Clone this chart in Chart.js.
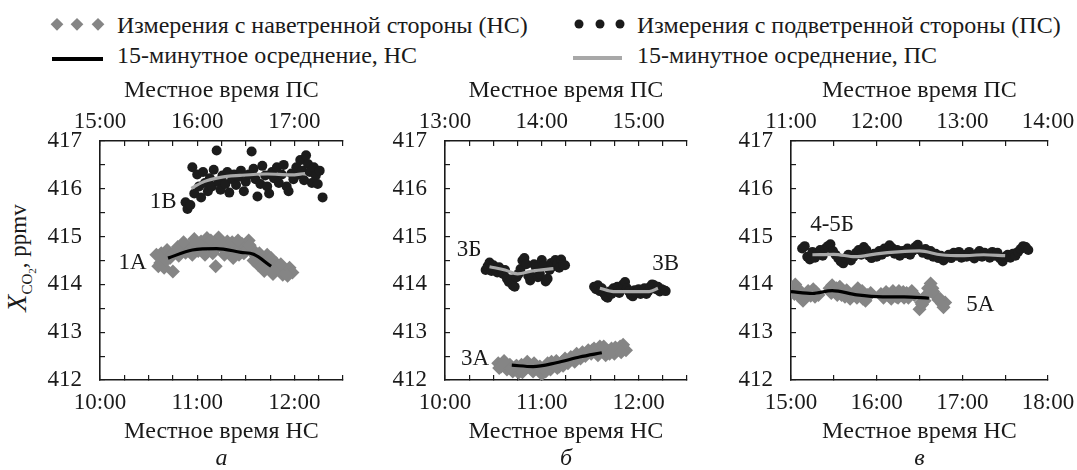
<!DOCTYPE html>
<html><head><meta charset="utf-8">
<script src="https://cdn.jsdelivr.net/npm/chart.js@4.4.1/dist/chart.umd.min.js"></script>
<style>
html,body{margin:0;padding:0;background:#fff;}
body{width:1077px;height:470px;position:relative;overflow:hidden;font-family:"Liberation Serif","DejaVu Serif",serif;color:#1a1a1a;}
canvas{position:absolute;top:60px;}
.lt{position:absolute;font-size:24px;line-height:24px;white-space:nowrap;}
.dia{position:absolute;width:8.5px;height:8.5px;background:#858585;transform:translate(-50%,-50%) rotate(45deg);}
.dot{position:absolute;width:9px;height:9px;border-radius:50%;background:#1a1a1a;transform:translate(-50%,-50%);}
.ln{position:absolute;height:4px;}
#ytitle{position:absolute;left:24px;top:258px;transform:translate(-50%,-50%) rotate(-90deg);white-space:nowrap;font-size:23px;line-height:30px;}
</style></head>
<body>
<span class="dia" style="left:57px;top:24px"></span>
<span class="dia" style="left:77px;top:24px"></span>
<span class="dia" style="left:98px;top:24px"></span>
<div class="lt" style="left:117px;top:13px">Измерения с наветренной стороны (НС)</div>
<div class="ln" style="left:52px;top:57px;width:51px;background:#000"></div>
<div class="lt" style="left:117px;top:43px">15-минутное осреднение, НС</div>
<span class="dot" style="left:579px;top:24px"></span>
<span class="dot" style="left:600px;top:24px"></span>
<span class="dot" style="left:620px;top:24px"></span>
<div class="lt" style="left:637px;top:13px">Измерения с подветренной стороны (ПС)</div>
<div class="ln" style="left:573px;top:56px;width:49px;background:#a8a8a8"></div>
<div class="lt" style="left:637px;top:43px">15-минутное осреднение, ПС</div>
<div id="ytitle"><i style="font-size:28px">X</i><sub style="font-size:15px">CO<sub style="font-size:11px">2</sub></sub>, ppmv</div>

<canvas id="ca" width="360" height="410" style="left:0px;width:360px;height:410px"></canvas>
<canvas id="cb" width="357" height="410" style="left:360px;width:357px;height:410px"></canvas>
<canvas id="cc" width="360" height="410" style="left:717px;width:360px;height:410px"></canvas>

<script>
// ---------- Panel а ----------
const tA_ns = [10.60,10.63,10.66,10.69,10.72,10.75,10.78,10.81,10.85,10.88,10.91,10.95,10.98,11.01,11.04,11.07,11.10,11.13,11.16,11.19,11.22,11.25,11.28,11.31,11.34,11.37,11.40,11.43,11.46,11.50,11.53,11.56,11.60,11.63,11.66,11.69,11.72,11.75,11.78,11.81,11.84,11.88,11.91,11.95,11.98,
               10.58,10.62,10.68,10.74,10.80,10.86,10.92,10.97,11.03,11.08,11.14,11.18,11.24,11.30,11.36,11.42,11.48,11.54,11.58,11.64,11.70,11.76,11.82,11.86,11.93];
const cA_ns = [414.38,414.65,414.35,414.72,414.55,414.27,414.70,414.60,414.80,414.66,414.78,414.62,414.86,414.70,414.90,414.78,414.97,414.82,414.65,414.38,414.98,414.80,414.62,414.90,414.70,414.55,414.78,414.62,414.85,414.70,414.92,414.75,414.60,414.40,414.52,414.28,414.62,414.40,414.22,414.45,414.30,414.20,414.28,414.35,414.25,
               414.62,414.45,414.50,414.62,414.78,414.88,414.70,414.95,414.80,414.62,414.92,414.72,414.85,414.75,414.88,414.92,414.65,414.82,414.50,414.65,414.45,414.55,414.35,414.42,414.18];
const tA_nsAvg = [10.70,10.95,11.20,11.45,11.58,11.76];
const cA_nsAvg = [414.55,414.72,414.75,414.67,414.63,414.38];
const tA_ps = [10.88,10.90,10.93,10.95,10.97,11.00,11.02,11.04,11.06,11.08,11.11,11.13,11.15,11.17,11.20,11.22,11.24,11.26,11.29,11.31,11.33,11.36,11.38,11.40,11.43,11.45,11.48,11.50,11.53,11.56,11.58,11.60,11.62,11.65,11.67,11.70,11.72,11.74,11.77,11.79,11.82,11.84,11.87,11.89,11.92,11.94,11.97,11.99,12.02,12.04,12.06,12.08,12.10,12.12,12.14,12.16,12.18,12.20,12.22,12.24,12.26,12.29];
const cA_ps = [415.72,415.58,415.66,416.45,415.90,416.30,416.05,415.82,416.35,416.12,415.95,416.22,416.05,416.40,416.80,416.15,415.98,416.28,416.10,416.35,415.92,416.20,416.30,416.08,416.25,416.38,415.95,416.15,416.30,416.78,416.42,416.20,415.84,416.10,416.48,416.28,416.05,415.90,416.35,416.22,416.45,416.12,416.30,416.50,416.05,415.95,416.32,416.20,416.45,416.30,416.60,416.38,416.18,416.70,416.52,416.35,416.12,416.45,416.28,416.10,416.38,415.82];
const tA_psAvg = [10.94,11.07,11.24,11.44,11.72,11.96,12.11];
const cA_psAvg = [416.01,416.15,416.24,416.28,416.31,416.29,416.32];
const labelsA = ['1В','1А'];
const labelTA = [10.65,10.335];
const labelCA = [415.73,414.44];

// ---------- Panel б ----------
const tB_ns = [10.55,10.58,10.61,10.64,10.67,10.70,10.73,10.76,10.79,10.82,10.85,10.88,10.91,10.94,10.97,11.00,11.03,11.06,11.09,11.12,11.15,11.18,11.21,11.24,11.27,11.30,11.33,11.36,11.39,11.42,11.45,11.48,11.51,11.54,11.57,11.60,11.63,11.66,11.69,11.72,11.75,11.78,11.81,11.84,11.87,
               10.56,10.62,10.68,10.74,10.80,10.86,10.92,10.98,11.04,11.10,11.16,11.22,11.28,11.34,11.40,11.46,11.52,11.58,11.64,11.70,11.76,11.82];
const cB_ns = [412.35,412.28,412.40,412.22,412.32,412.18,412.28,412.15,412.32,412.22,412.38,412.25,412.18,412.30,412.22,412.12,412.25,412.35,412.22,412.30,412.40,412.28,412.38,412.45,412.35,412.48,412.42,412.55,412.48,412.58,412.50,412.62,412.55,412.66,412.58,412.70,412.62,412.52,412.60,412.66,412.55,412.62,412.70,412.74,412.62,
               412.25,412.34,412.24,412.30,412.16,412.28,412.35,412.28,412.18,412.38,412.25,412.30,412.42,412.38,412.45,412.55,412.62,412.52,412.70,412.55,412.68,412.58];
const tB_nsAvg = [10.69,10.91,11.15,11.39,11.62];
const cB_nsAvg = [412.31,412.28,412.36,412.48,412.57];
const tB_ps1 = [10.42,10.44,10.46,10.48,10.50,10.52,10.54,10.56,10.58,10.60,10.62,10.64,10.66,10.68,10.70,10.72,10.74,10.76,10.78,10.80,10.82,10.84,10.86,10.88,10.90,10.92,10.94,10.96,10.98,11.00,11.02,11.04,11.06,11.08,11.10,11.12,11.14,11.16,11.18,11.20,11.22,11.24];
const cB_ps1 = [414.30,414.38,414.46,414.28,414.40,414.33,414.25,414.36,414.30,414.22,414.30,414.12,414.05,414.10,413.98,413.95,414.15,414.22,414.32,414.50,414.55,414.42,414.18,414.08,414.16,414.42,414.35,414.15,414.22,414.51,414.40,414.06,414.12,414.30,414.45,414.38,414.51,414.42,414.35,414.52,414.41,414.40];
const tB_ps1Avg = [10.46,10.62,10.75,10.90,11.12];
const cB_ps1Avg = [414.37,414.30,414.22,414.28,414.33];
const tB_ps2 = [11.54,11.56,11.58,11.60,11.62,11.64,11.66,11.68,11.70,11.72,11.74,11.76,11.78,11.80,11.82,11.84,11.86,11.88,11.90,11.92,11.94,11.96,11.98,12.00,12.02,12.04,12.06,12.08,12.10,12.12,12.14,12.16,12.18,12.20,12.22,12.24,12.26,12.28];
const cB_ps2 = [413.95,413.90,413.98,413.86,413.92,413.82,413.75,413.72,413.85,413.80,413.92,413.88,413.95,413.82,413.90,414.00,414.05,413.92,413.85,413.78,413.75,413.88,413.82,413.90,413.80,413.85,413.92,413.80,413.86,413.95,414.00,413.98,413.90,413.95,413.85,413.90,413.88,413.86];
const tB_ps2Avg = [11.60,11.74,11.94,12.11,12.20];
const cB_ps2Avg = [413.92,413.85,413.85,413.85,413.92];
const labelsB = ['3Б','3В','3А'];
const labelTB = [10.25,12.28,10.31];
const labelCB = [414.73,414.42,412.45];

// ---------- Panel в ----------
const tC_ns = [15.02,15.05,15.08,15.11,15.14,15.17,15.20,15.23,15.26,15.29,15.32,15.45,15.48,15.51,15.54,15.57,15.60,15.63,15.66,15.69,15.72,15.75,15.78,15.81,15.84,15.87,15.90,15.93,16.05,16.08,16.11,16.14,16.17,16.20,16.23,16.26,16.29,16.32,16.35,16.38,16.41,16.44,16.50,16.53,16.56,16.60,16.63,16.66,16.69,16.72,16.76,16.80,
               15.04,15.10,15.16,15.22,15.28,15.47,15.53,15.59,15.65,15.71,15.77,15.83,15.89,16.07,16.13,16.19,16.25,16.31,16.37,16.43,16.52,16.58,16.65,16.74,16.78];
const cC_ns = [413.92,414.00,413.82,413.72,413.66,413.78,413.86,413.76,413.90,413.84,413.78,413.92,413.98,413.85,413.78,413.95,413.88,413.74,413.82,413.70,413.78,413.85,413.92,413.80,413.70,413.66,413.75,413.82,413.80,413.72,413.84,413.76,413.70,413.80,413.74,413.86,413.78,413.72,413.82,413.76,413.86,413.78,413.48,413.58,413.66,413.92,414.02,413.85,413.76,413.68,413.60,413.62,
               413.80,413.88,413.72,413.82,413.74,413.82,413.92,413.78,413.88,413.76,413.72,413.86,413.78,413.76,413.80,413.86,413.72,413.84,413.72,413.80,413.62,413.78,413.92,413.70,413.52];
const tC_nsAvg = [15.00,15.25,15.48,15.77,16.07,16.32,16.61];
const cC_nsAvg = [413.85,413.81,413.87,413.78,413.74,413.74,413.71];
const tC_ps = [15.13,15.16,15.19,15.22,15.25,15.28,15.31,15.34,15.37,15.40,15.43,15.46,15.49,15.52,15.55,15.58,15.61,15.64,15.67,15.70,15.73,15.76,15.79,15.82,15.85,15.88,15.91,15.94,15.97,16.00,16.03,16.06,16.09,16.12,16.15,16.18,16.21,16.24,16.27,16.30,16.33,16.36,16.39,16.42,16.45,16.48,16.51,16.54,16.57,16.60,16.63,16.66,16.69,16.72,16.75,16.78,16.81,16.84,16.87,16.90,16.93,16.96,16.99,17.02,17.05,17.08,17.11,17.14,17.17,17.20,17.23,17.26,17.29,17.32,17.35,17.38,17.41,17.44,17.47,17.50,17.53,17.56,17.59,17.62,17.65,17.68,17.71,17.74,17.77];
const cC_ps = [414.75,414.80,414.58,414.52,414.68,414.56,414.66,414.72,414.60,414.75,414.80,414.84,414.70,414.62,414.55,414.48,414.44,414.55,414.62,414.50,414.58,414.66,414.72,414.62,414.78,414.72,414.60,414.55,414.64,414.58,414.70,414.62,414.75,414.68,414.82,414.76,414.64,414.72,414.60,414.70,414.65,414.75,414.62,414.70,414.78,414.83,414.72,414.66,414.74,414.62,414.70,414.58,414.64,414.55,414.60,414.50,414.56,414.62,414.55,414.66,414.60,414.68,414.56,414.62,414.58,414.68,414.60,414.54,414.64,414.70,414.58,414.66,414.62,414.56,414.68,414.60,414.66,414.54,414.48,414.58,414.62,414.56,414.64,414.60,414.68,414.74,414.80,414.78,414.72];
const tC_psAvg = [15.25,15.50,15.75,16.00,16.25,16.50,16.75,17.00,17.25,17.50];
const cC_psAvg = [414.62,414.63,414.58,414.64,414.68,414.70,414.62,414.60,414.62,414.60];
const labelsC = ['4-5Б','5А'];
const labelTC = [15.48,17.21];
const labelCC = [415.25,413.58];

// ---------- common ----------
const FAM = '"Liberation Serif", "DejaVu Serif", serif';
const INK = '#1a1a1a';
const pts = (xs, ys) => xs.map((x, i) => ({x, y: ys[i]}));

function diamonds(xs, ys) {
  return {data: pts(xs, ys), pointStyle: 'rectRot', pointRadius: 7, backgroundColor: '#858585', borderWidth: 0, order: 3};
}
function dots(xs, ys) {
  return {data: pts(xs, ys), pointStyle: 'circle', pointRadius: 5, backgroundColor: '#1c1c1c', borderColor: '#1c1c1c', borderWidth: 0, order: 2};
}
function avgLine(xs, ys, color) {
  return {data: pts(xs, ys), showLine: true, pointRadius: 0, borderColor: color, borderWidth: 3.2, tension: 0.35, cubicInterpolationMode: 'monotone', order: 0};
}

const textLabels = {
  id: 'textLabels',
  afterDatasetsDraw(chart, args, opts) {
    const ctx = chart.ctx, xs = chart.scales.x, ys = chart.scales.y;
    ctx.save();
    ctx.font = '23px ' + FAM;
    ctx.fillStyle = INK;
    ctx.textAlign = 'center';
    ctx.textBaseline = 'middle';
    opts.texts.forEach((t, i) => ctx.fillText(t, xs.getPixelForValue(opts.tx[i]), ys.getPixelForValue(opts.ty[i])));
    ctx.restore();
  }
};

const hourFmt = v => Number.isInteger(v) ? v + ':00' : '';
const gridOpts = {drawOnChartArea: false, drawTicks: true, tickLength: -5, color: INK, lineWidth: 1.2};
const borderOpts = {display: true, color: INK, width: 1.6};

function panel(id, p) {
  new Chart(document.getElementById(id), {
    type: 'scatter',
    data: {datasets: p.datasets},
    plugins: [textLabels],
    options: {
      responsive: false, animation: false, devicePixelRatio: 1,
      layout: {padding: {left: 0, right: p.padRight, top: 0, bottom: 0}},
      plugins: {
        legend: {display: false}, tooltip: {enabled: false},
        title: {display: true, text: p.letter, position: 'bottom', fullSize: false, color: INK,
                font: {family: FAM, size: 24, style: 'italic', weight: 'normal', lineHeight: 0.8}, padding: {top: 0, bottom: 2}},
        textLabels: {texts: p.texts, tx: p.tx, ty: p.ty}
      },
      scales: {
        x: {type: 'linear', position: 'bottom', min: p.xMin, max: p.xMax, weight: 0,
            ticks: {stepSize: p.step, autoSkip: false, maxRotation: 0, padding: 14.2, color: INK, font: {family: FAM, size: 23}, callback: hourFmt},
            grid: gridOpts, border: borderOpts,
            title: {display: true, text: 'Местное время НС', color: INK, font: {family: FAM, size: 24}, padding: {top: 0, bottom: 2.4}},
            afterFit: s => { s.height = 68.8; s.paddingLeft = 0; s.paddingRight = 0; }},
        x2: {type: 'linear', position: 'top', min: p.xMin + p.shift, max: p.xMax + p.shift,
            ticks: {stepSize: p.step, autoSkip: false, maxRotation: 0, padding: 10.2, color: INK, font: {family: FAM, size: 23}, callback: hourFmt},
            grid: gridOpts, border: borderOpts,
            title: {display: true, text: 'Местное время ПС', color: INK, font: {family: FAM, size: 24}, padding: {top: 16.6, bottom: 0}},
            afterFit: s => { s.height = 81; s.paddingLeft = 0; s.paddingRight = 0; }},
        y: {type: 'linear', position: 'left', min: 412, max: 417,
            ticks: {stepSize: 0.5, autoSkip: false, padding: 23, color: INK, font: {family: FAM, size: 23}, callback: v => Number.isInteger(v) ? String(v) : ''},
            grid: gridOpts, border: borderOpts,
            afterFit: s => { s.width = p.yWidth; s.paddingTop = 0; s.paddingBottom = 0; }}
      }
    }
  });
}

panel('ca', {
  letter: 'а', xMin: 10, xMax: 12.5, step: 0.25, shift: 5, yWidth: 100, padRight: 17,
  texts: labelsA, tx: labelTA, ty: labelCA,
  datasets: [avgLine(tA_nsAvg, cA_nsAvg, '#000'), avgLine(tA_psAvg, cA_psAvg, '#a8a8a8'), dots(tA_ps, cA_ps), diamonds(tA_ns, cA_ns)]
});
panel('cb', {
  letter: 'б', xMin: 10, xMax: 12.5, step: 0.25, shift: 3, yWidth: 85, padRight: 30,
  texts: labelsB, tx: labelTB, ty: labelCB,
  datasets: [avgLine(tB_nsAvg, cB_nsAvg, '#000'), avgLine(tB_ps1Avg, cB_ps1Avg, '#a8a8a8'), avgLine(tB_ps2Avg, cB_ps2Avg, '#a8a8a8'),
             dots(tB_ps1, cB_ps1), dots(tB_ps2, cB_ps2), diamonds(tB_ns, cB_ns)]
});
panel('cc', {
  letter: 'в', xMin: 15, xMax: 18, step: 0.5, shift: -4, yWidth: 74, padRight: 29,
  texts: labelsC, tx: labelTC, ty: labelCC,
  datasets: [avgLine(tC_nsAvg, cC_nsAvg, '#000'), avgLine(tC_psAvg, cC_psAvg, '#a8a8a8'), dots(tC_ps, cC_ps), diamonds(tC_ns, cC_ns)]
});
</script>
</body></html>
